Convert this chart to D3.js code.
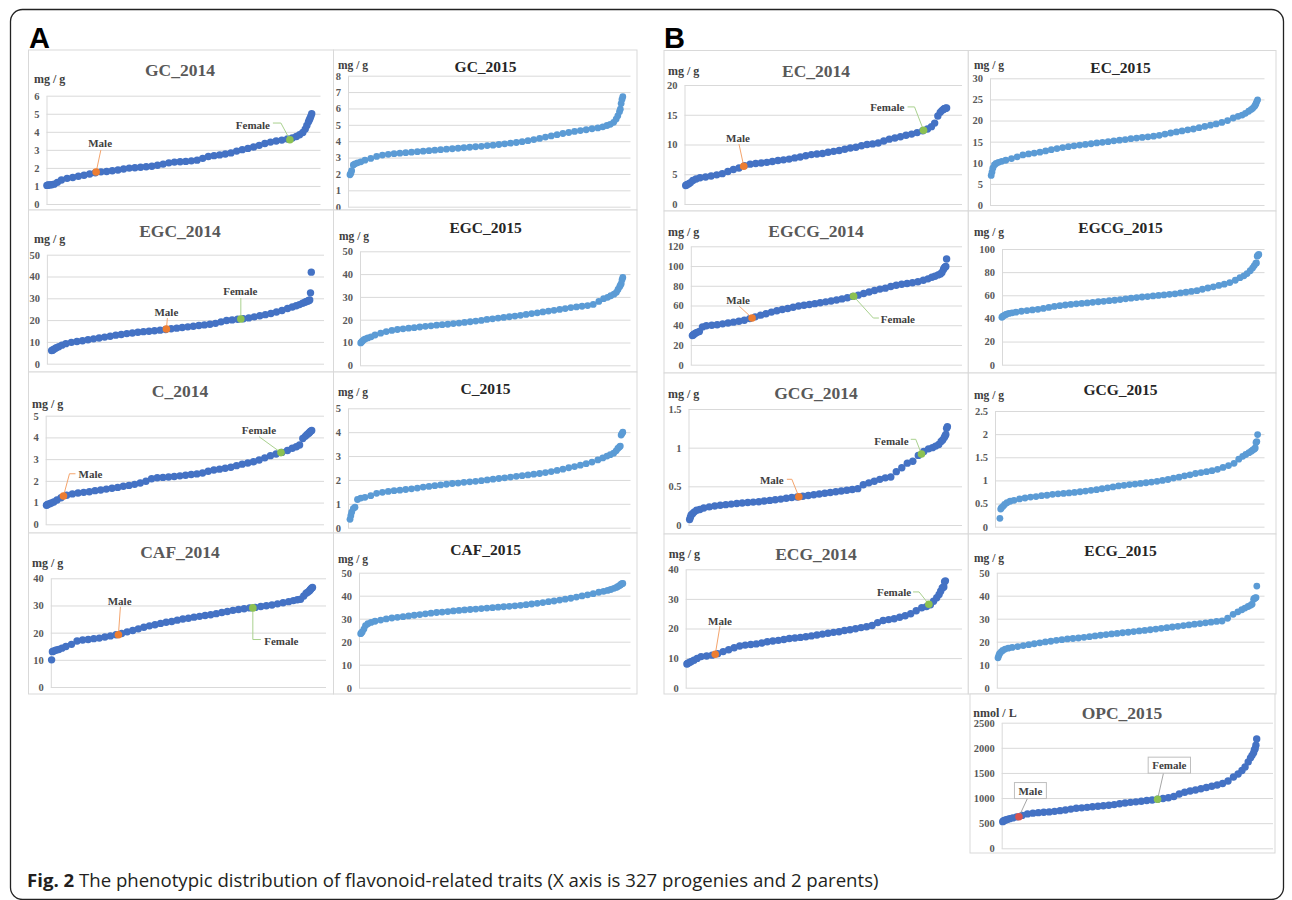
<!DOCTYPE html>
<html>
<head>
<meta charset="utf-8">
<script src="https://cdn.jsdelivr.net/npm/d3@7"></script>
<style>
  body { margin: 0; background: #fff; }
</style>
</head>
<body>
<svg id="fig" width="1292" height="900"></svg>
<script>
const ranks = [1,2,3,5,7,10,14,19,26,33,40,47,54,61,68,75,82,89,96,103,110,117,124,131,138,145,152,159,166,173,180,187,194,201,208,215,222,229,236,243,250,257,264,271,278,285,292,299,305,310,314,318,321,323,325,326,327,328,329];

const gc2014 = [1.03,1.04,1.05,1.06,1.07,1.1,1.2,1.33,1.42,1.47,1.54,1.59,1.66,1.73,1.78,1.8,1.84,1.88,1.94,1.99,2.01,2.04,2.06,2.09,2.15,2.21,2.28,2.32,2.34,2.36,2.39,2.43,2.53,2.63,2.68,2.72,2.77,2.83,2.93,3.01,3.08,3.16,3.25,3.35,3.43,3.49,3.54,3.6,3.66,3.74,3.84,3.96,4.15,4.35,4.55,4.65,4.75,4.87,5.0];
const gc2015 = [1.95,2.05,2.2,2.55,2.62,2.68,2.74,2.84,2.95,3.07,3.15,3.2,3.24,3.27,3.3,3.33,3.36,3.39,3.42,3.45,3.48,3.51,3.54,3.57,3.6,3.63,3.66,3.69,3.73,3.76,3.8,3.84,3.88,3.92,3.97,4.03,4.1,4.17,4.25,4.32,4.4,4.47,4.53,4.6,4.65,4.7,4.76,4.81,4.88,4.96,5.03,5.15,5.35,5.55,5.8,5.95,6.3,6.55,6.72];
const egc2014 = [6.0,6.2,6.4,6.9,7.3,7.8,8.5,9.2,9.8,10.2,10.5,11.0,11.4,11.8,12.2,12.6,13.1,13.4,13.8,14.1,14.4,14.7,14.9,15.1,15.4,15.7,16.0,16.3,16.6,16.9,17.2,17.5,17.8,18.1,18.5,19.2,19.8,20.1,20.4,20.6,21.0,21.5,22.0,22.5,23.0,23.7,24.4,25.3,26.0,26.6,27.1,27.7,28.2,28.5,28.8,29.0,29.2,32.5,42.0];
const egc2015 = [9.8,10.2,10.6,11.2,11.6,12.0,12.5,13.3,14.1,14.8,15.3,15.7,16.0,16.3,16.5,16.8,17.1,17.3,17.6,17.8,18.0,18.3,18.5,18.8,19.1,19.4,19.7,20.1,20.4,20.7,21.0,21.3,21.6,21.9,22.3,22.7,23.0,23.4,23.8,24.1,24.5,24.9,25.3,25.6,25.9,26.2,26.7,28.0,29.2,29.8,30.5,31.2,32.0,33.3,34.5,35.1,35.8,37.5,38.5];
const c2014 = [0.88,0.9,0.92,0.95,0.98,1.03,1.12,1.22,1.34,1.4,1.44,1.47,1.5,1.55,1.58,1.62,1.66,1.7,1.75,1.79,1.84,1.9,1.98,2.1,2.14,2.16,2.18,2.2,2.23,2.26,2.29,2.32,2.36,2.44,2.5,2.54,2.58,2.63,2.7,2.77,2.82,2.88,2.96,3.06,3.16,3.24,3.31,3.4,3.5,3.57,3.65,3.95,4.05,4.12,4.18,4.22,4.26,4.29,4.32];
const c2015 = [0.35,0.5,0.65,0.8,0.86,1.18,1.24,1.27,1.34,1.44,1.48,1.52,1.55,1.57,1.6,1.63,1.66,1.7,1.73,1.76,1.79,1.82,1.85,1.87,1.9,1.92,1.94,1.97,2.0,2.03,2.06,2.09,2.12,2.15,2.18,2.21,2.24,2.27,2.31,2.35,2.4,2.45,2.51,2.56,2.62,2.68,2.75,2.84,2.92,3.0,3.06,3.12,3.22,3.32,3.38,3.42,3.88,3.94,4.0];
const caf2014 = [10.0,13.0,13.2,13.4,13.6,13.8,14.3,14.9,15.7,16.9,17.3,17.5,17.8,18.0,18.4,18.8,19.2,19.7,20.3,20.8,21.4,22.0,22.5,22.9,23.4,23.8,24.1,24.6,25.0,25.3,25.7,26.0,26.3,26.6,27.0,27.4,27.8,28.2,28.5,28.8,29.1,29.3,29.6,29.9,30.2,30.6,31.0,31.4,31.8,32.1,32.3,33.5,34.5,34.9,35.3,35.7,36.1,36.4,36.6];
const caf2015 = [23.5,23.9,24.3,25.5,27.0,27.8,28.4,28.9,29.4,29.9,30.3,30.6,30.9,31.2,31.5,31.8,32.1,32.4,32.7,32.9,33.1,33.4,33.6,33.8,34.0,34.2,34.4,34.6,34.8,35.0,35.2,35.4,35.6,35.8,36.1,36.4,36.7,37.0,37.4,37.7,38.1,38.5,38.9,39.4,39.9,40.4,40.9,41.5,41.9,42.3,42.7,43.2,43.6,44.0,44.4,44.7,45.0,45.2,45.3];
const ec2014 = [3.1,3.2,3.3,3.4,3.6,3.95,4.2,4.4,4.55,4.7,4.9,5.1,5.45,5.8,6.05,6.45,6.7,6.8,6.9,7.0,7.15,7.3,7.42,7.55,7.75,7.9,8.1,8.3,8.4,8.5,8.7,8.85,9.0,9.2,9.4,9.55,9.8,10.0,10.1,10.25,10.6,10.9,11.1,11.3,11.55,11.75,12.0,12.3,12.6,13.0,13.6,14.8,15.4,15.7,15.9,16.0,16.05,16.1,16.15];
const ec2015 = [7.0,7.8,8.7,9.5,9.85,10.1,10.35,10.6,11.0,11.4,11.85,12.1,12.3,12.5,12.8,13.1,13.35,13.6,13.8,14.0,14.2,14.35,14.5,14.7,14.85,15.0,15.2,15.35,15.5,15.7,15.85,16.0,16.15,16.3,16.5,16.8,17.05,17.3,17.55,17.8,18.0,18.3,18.6,18.9,19.2,19.55,20.0,20.6,21.0,21.3,21.7,22.2,22.6,22.9,23.3,23.6,24.0,24.5,24.9];
const egcg2014 = [29.5,30.2,30.8,31.8,32.8,33.6,38.3,39.5,40.0,40.5,41.4,42.3,43.1,44.0,45.1,46.7,48.5,50.2,51.7,53.3,54.7,55.9,57.0,58.3,59.5,60.2,61.0,61.9,62.8,63.7,64.6,65.6,66.7,67.9,69.2,70.5,72.1,73.7,75.2,76.6,77.6,79.2,80.5,81.5,82.3,83.0,84.0,85.6,87.0,88.6,89.7,91.0,92.0,93.5,96.5,98.0,99.0,99.5,107.2];
const egcg2015 = [41.0,41.7,42.2,43.0,43.6,44.3,44.8,45.4,46.2,46.8,47.3,47.9,48.6,49.5,50.4,51.0,51.6,52.1,52.6,53.0,53.4,53.9,54.4,54.8,55.3,55.7,56.3,56.9,57.5,58.0,58.5,58.9,59.4,59.9,60.3,60.8,61.3,62.0,62.6,63.3,64.0,65.2,66.3,67.3,68.5,69.6,71.0,73.0,75.2,76.8,78.8,81.2,83.5,85.5,87.5,88.0,93.8,94.6,95.3];
const gcg2014 = [0.07,0.1,0.13,0.15,0.17,0.19,0.2,0.22,0.235,0.245,0.255,0.263,0.27,0.278,0.285,0.29,0.296,0.3,0.31,0.318,0.326,0.335,0.345,0.355,0.363,0.372,0.382,0.392,0.4,0.41,0.42,0.43,0.44,0.45,0.46,0.47,0.52,0.545,0.565,0.59,0.61,0.62,0.69,0.74,0.8,0.825,0.9,0.95,0.985,1.0,1.02,1.04,1.08,1.1,1.13,1.15,1.17,1.25,1.27];
const gcg2015 = [0.18,0.38,0.41,0.44,0.48,0.52,0.55,0.57,0.6,0.62,0.64,0.65,0.67,0.68,0.7,0.71,0.72,0.73,0.74,0.755,0.77,0.785,0.8,0.82,0.84,0.86,0.88,0.895,0.91,0.92,0.935,0.95,0.965,0.98,1.0,1.02,1.05,1.07,1.1,1.12,1.15,1.17,1.19,1.21,1.24,1.28,1.32,1.37,1.46,1.52,1.56,1.6,1.63,1.66,1.68,1.7,1.82,1.84,1.99];
const ecg2014 = [8.0,8.2,8.4,8.6,8.9,9.3,9.9,10.5,10.7,11.0,11.5,12.2,12.8,13.5,14.1,14.4,14.6,14.8,15.1,15.5,15.8,16.0,16.3,16.6,16.8,17.0,17.2,17.5,17.8,18.1,18.4,18.7,18.9,19.3,19.6,19.9,20.3,20.6,21.0,22.0,22.7,23.0,23.3,23.8,24.3,25.0,26.0,27.0,27.4,28.0,29.2,30.4,31.5,32.6,33.7,33.9,34.0,35.8,36.1];
const ecg2015 = [13.0,14.0,14.8,15.6,16.2,16.8,17.2,17.5,17.9,18.3,18.7,19.1,19.5,19.9,20.2,20.6,20.9,21.2,21.4,21.6,21.9,22.2,22.5,22.8,23.1,23.4,23.6,23.9,24.1,24.4,24.7,24.9,25.2,25.5,25.8,26.1,26.4,26.7,27.0,27.3,27.6,27.9,28.2,28.5,28.8,29.0,30.2,31.9,33.0,33.9,34.6,35.3,35.8,36.3,38.5,38.8,39.0,39.2,44.2];
const opc2015 = [530,545,555,565,575,590,605,625,655,685,700,710,718,725,735,749,763,780,796,805,815,828,838,848,858,870,888,903,915,925,937,950,962,975,990,1005,1030,1080,1115,1140,1160,1185,1210,1235,1260,1290,1340,1420,1480,1550,1620,1720,1800,1850,1900,1960,1980,2050,2176];

const traits = ["GC_2014","GC_2015","EGC_2014","EGC_2015","C_2014","C_2015","CAF_2014","CAF_2015",
                "EC_2014","EC_2015","EGCG_2014","EGCG_2015","GCG_2014","GCG_2015","ECG_2014","ECG_2015","OPC_2015"];
const series = [gc2014,gc2015,egc2014,egc2015,c2014,c2015,caf2014,caf2015,
                ec2014,ec2015,egcg2014,egcg2015,gcg2014,gcg2015,ecg2014,ecg2015,opc2015];
const units = ["mg / g","mg / g","mg / g","mg / g","mg / g","mg / g","mg / g","mg / g",
               "mg / g","mg / g","mg / g","mg / g","mg / g","mg / g","mg / g","mg / g","nmol / L"];
const axisMax  = [6,8,50,50,5,5,40,50,20,30,120,100,1.5,2.5,40,50,2500];
const axisStep = [1,1,10,10,1,1,10,10,5,5,20,20,0.5,0.5,10,10,500];

// parents (rank within the sorted curve, value); null = not marked
const maleRank    = [62,null,146,null,22,null,85,null,74,null,78,null,140,null,37,null,22];
const maleValue   = [1.77,null,15.9,null,1.30,null,19.2,null,6.34,null,47.3,null,0.366,null,11.3,null,629];
const femaleRank  = [302,null,240,null,291,null,254,null,300,null,209,null,296,null,308,null,201];
const femaleValue = [3.56,null,20.5,null,3.30,null,29.1,null,12.4,null,69.3,null,0.918,null,28.2,null,975];

// layout of each small chart
// box: panel frame, plot: [left, right, y of 0, y of max], dots: x of first/last rank
const layout = [
  {box:[28.5,50,333.5,210],  plot:[46.5,320.5,204,95.7],   dots:[46.9,311.7],  title:[180,70],     unit:[34,79],
   male:{lab:[4,-29], lead:[[4.7,-22],[0,0]]}, female:{lab:[-37,-15], lead:[[-17,-16.7],[-9,-16.7],[0,0]]}},
  {box:[333.5,50,637,210],   plot:[348,630.5,206.7,75.7],  dots:[350,622.8],   title:[485.6,67],   unit:[338,64.5]},
  {box:[28.5,210,333.5,372], plot:[46.9,324,363.7,254.7],  dots:[51.6,311.3],  title:[180,231],    unit:[34,238.7],
   male:{lab:[0,-16.5], lead:[[1,-11],[0,0]]}, female:{lab:[-0.5,-27.7], lead:[[0,-21],[0,0]]}},
  {box:[333.5,210,637,372],  plot:[360,630.5,365.3,251.3], dots:[360.7,622.8], title:[485.6,228],  unit:[339,236]},
  {box:[28.5,372,333.5,533], plot:[45.7,324,524.3,415.7],  dots:[46.5,311.7],  title:[180,390.7],  unit:[32,403.3],
   male:{lab:[27,-21.7], lead:[[12,-22.3],[6,-22.3],[0,0]]}, female:{lab:[-22,-22.7], lead:[[-22,-16],[0,0]]}},
  {box:[333.5,372,637,533],  plot:[348,630.5,527.7,408.3], dots:[350,622.8],   title:[485.6,388.3],unit:[338,391.7]},
  {box:[28.5,533,333.5,694], plot:[50.8,326,687,578.3],    dots:[51.6,312.5],  title:[180,551.7],  unit:[32,562.7],
   male:{lab:[1.2,-34], lead:[[2,-28],[0,0]]}, female:{lab:[28.5,33.3], lead:[[0,0],[0,31.6],[8,31.6]]}},
  {box:[333.5,533,637,694],  plot:[359,630.5,687.7,572.7], dots:[360.7,622.8], title:[485.6,550],  unit:[338,559.3]},
  {box:[664,50.5,968.3,211], plot:[684.5,962,204,85],      dots:[685.7,946.6], title:[816,70.7],   unit:[668,70.7],
   male:{lab:[-5.8,-28.3], lead:[[-4.8,-22.3],[0,0]]}, female:{lab:[-36.3,-22.7], lead:[[-16,-23.3],[-9,-23.3],[0,0]]}},
  {box:[968.3,50.5,1276,211],plot:[990,1264.5,205,78.3],   dots:[991.2,1257.6],title:[1120.5,67.3],unit:[974,64.7]},
  {box:[664,211,968.3,373],  plot:[690.8,962,364.7,246.3], dots:[692.4,946.6], title:[816,231.3],  unit:[668,232],
   male:{lab:[-14,-18.3], lead:[[-13,-12],[0,0]]}, female:{lab:[44.3,22.7], lead:[[0,0],[19.7,21.7],[25.3,21.7]]}},
  {box:[968.3,211,1276,373], plot:[1002,1264.5,364.7,249], dots:[1001.9,1258.8],title:[1120.5,228],unit:[974,232]},
  {box:[664,373,968.3,534],  plot:[688.5,962,525,409],     dots:[689.6,947.4], title:[816,393.3],  unit:[668,394],
   male:{lab:[-27,-16.7], lead:[[-12,-17.4],[-7,-17.4],[0,0]]}, female:{lab:[-30,-13], lead:[[-10.7,-14.7],[-5.7,-14.7],[0,0]]}},
  {box:[968.3,373,1276,534], plot:[995,1264.5,526.7,411],  dots:[999.9,1257.6],title:[1120.5,390], unit:[974,395]},
  {box:[664,534,968.3,694],  plot:[685.7,962,687.7,569.3], dots:[686.9,945.4], title:[816,554.3],  unit:[668.7,553.3],
   male:{lab:[4.7,-33.3], lead:[[4.7,-28.3],[0,0]]}, female:{lab:[-34.8,-11.6], lead:[[-15.8,-12.3],[-9.8,-12.3],[0,0]]}},
  {box:[968.3,534,1276,694], plot:[996.8,1264.5,687.7,572.7],dots:[998,1256.8], title:[1120.5,551], unit:[974,558.3]},
  {box:[970,694,1275,853],   plot:[1001.7,1273,848.3,722.7],dots:[1002.7,1256.7],title:[1122,713.3],unit:[973.3,712.7], boxed:true,
   male:{lab:[11.4,-26], lead:[[8.7,-18.7],[0,0]]}, female:{lab:[11.7,-34], lead:[[6,-26.6],[0,0]]}}
];

const serif = "'Liberation Serif', 'Times New Roman', serif";
const darkBlue = "#4472C4", lightBlue = "#5B9BD5";

const svg = d3.select("#fig");

svg.append("rect")
  .attr("x", 10.5).attr("y", 9.5)
  .attr("width", 1273).attr("height", 890)
  .attr("rx", 12)
  .attr("fill", "none").attr("stroke", "#222").attr("stroke-width", 1.3);

svg.append("text").attr("x", 29).attr("y", 48).text("A")
  .style("font-family", "'Liberation Sans', Arial, sans-serif").style("font-weight", "bold").style("font-size", "29px");
svg.append("text").attr("x", 664).attr("y", 48).text("B")
  .style("font-family", "'Liberation Sans', Arial, sans-serif").style("font-weight", "bold").style("font-size", "29px");

traits.forEach(function (name, i) {
  var L = layout[i];
  var is2015 = name.endsWith("2015") && !L.boxed;
  var g = svg.append("g");

  g.append("rect")
    .attr("x", L.box[0]).attr("y", L.box[1])
    .attr("width", L.box[2] - L.box[0]).attr("height", L.box[3] - L.box[1])
    .attr("fill", "#fff").attr("stroke", "#d9d9d9").attr("stroke-width", 1);

  var y = d3.scaleLinear().domain([0, axisMax[i]]).range([L.plot[2], L.plot[3]]);
  var x = d3.scaleLinear().domain([1, 329]).range(L.dots);
  var ticks = d3.range(0, axisMax[i] + axisStep[i] / 2, axisStep[i]);

  var yAxis = g.append("g")
    .attr("transform", "translate(" + L.plot[0] + ",0)")
    .call(d3.axisLeft(y)
      .tickValues(ticks)
      .tickSize(-(L.plot[1] - L.plot[0]))
      .tickSizeOuter(0)
      .tickPadding(7)
      .tickFormat(d3.format("~g")));
  yAxis.select(".domain").attr("stroke", "#d9d9d9");
  yAxis.selectAll(".tick line").attr("stroke", "#d9d9d9");
  yAxis.selectAll(".tick text")
    .style("font-family", serif).style("font-weight", "bold")
    .style("font-size", "10.5px").attr("fill", "#595959");

  // title and unit
  g.append("text")
    .attr("x", L.title[0]).attr("y", L.title[1]).attr("dy", "0.35em")
    .attr("text-anchor", "middle")
    .style("font-family", serif)
    .style("font-weight", "bold")
    .style("font-size", is2015 ? "15.5px" : "17.5px")
    .attr("fill", is2015 ? "#262626" : "#595959")
    .text(name);

  g.append("text")
    .attr("x", L.unit[0]).attr("y", L.unit[1]).attr("dy", "0.35em")
    .style("font-family", serif).style("font-weight", "bold")
    .style("font-size", is2015 ? "11.5px" : "12px")
    .attr("fill", "#404040")
    .text(units[i]);

  // sorted progeny values
  var color = is2015 ? lightBlue : darkBlue;
  g.selectAll("circle.pt")
    .data(series[i])
    .join("circle")
    .attr("class", "pt")
    .attr("cx", (d, j) => x(ranks[j]))
    .attr("cy", d => y(d))
    .attr("r", is2015 ? 3.4 : 3.7)
    .attr("fill", color);

  // parents
  if (maleRank[i] !== null) {
    var parents = [
      {label: "Male", rank: maleRank[i], value: maleValue[i], spec: L.male,
       fill: L.boxed ? "#d9534f" : "#ED7D31", line: L.boxed ? "#a6a6a6" : "#F4A46C"},
      {label: "Female", rank: femaleRank[i], value: femaleValue[i], spec: L.female,
       fill: "#8CC152", line: L.boxed ? "#a6a6a6" : "#A9D18E"}
    ];
    parents.forEach(function (p) {
      var px = x(p.rank), py = y(p.value);
      g.append("path")
        .attr("d", d3.line()(p.spec.lead.map(o => [px + o[0], py + o[1]])))
        .attr("fill", "none").attr("stroke", p.line).attr("stroke-width", 1);
      g.append("circle")
        .attr("cx", px).attr("cy", py).attr("r", 3.8)
        .attr("fill", p.fill);
      var t = g.append("text")
        .attr("x", px + p.spec.lab[0]).attr("y", py + p.spec.lab[1]).attr("dy", "0.35em")
        .attr("text-anchor", "middle")
        .style("font-family", serif).style("font-weight", "bold")
        .style("font-size", "11px").attr("fill", "#404040")
        .text(p.label);
      if (L.boxed) {
        var bb = t.node().getBBox();
        g.insert("rect", function () { return t.node(); })
          .attr("x", bb.x - 4).attr("y", bb.y - 2)
          .attr("width", bb.width + 8).attr("height", bb.height + 4)
          .attr("fill", "#fff").attr("stroke", "#bfbfbf").attr("stroke-width", 1);
      }
    });
  }
});

// caption
var cap = svg.append("text")
  .attr("x", 27).attr("y", 887)
  .style("font-family", "'Open Sans', 'Noto Sans', sans-serif")
  .style("font-size", "18.6px")
  .attr("fill", "#231f20");
cap.append("tspan").style("font-weight", "bold").text("Fig. 2");
cap.append("tspan").text(" The phenotypic distribution of flavonoid-related traits (X axis is 327 progenies and 2 parents)");
</script>
</body>
</html>
